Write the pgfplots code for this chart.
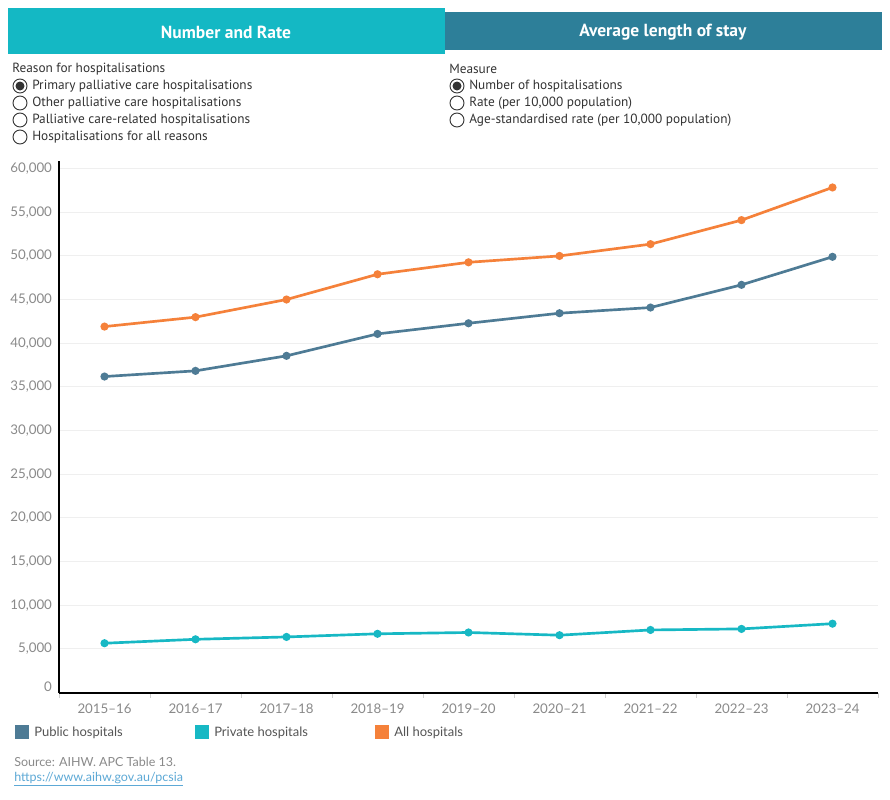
\documentclass[border=0pt]{standalone}
\usepackage{pgfplots}
\pgfplotsset{compat=1.18}
\usepackage{fontspec}
\setmainfont{Lato}
\newfontfamily\uifont{PT Sans}

\definecolor{pubc}{HTML}{4E7B95}
\definecolor{privc}{HTML}{17B8C4}
\definecolor{allc}{HTML}{F5813A}
\definecolor{tabA}{HTML}{14B8C4}
\definecolor{tabB}{HTML}{2D7F99}
\definecolor{ticklab}{HTML}{8A8A8A}
\definecolor{gridc}{HTML}{EFEFEF}
\definecolor{txt}{HTML}{333333}
\definecolor{legtxt}{HTML}{555555}
\definecolor{linkc}{HTML}{5DA9D6}

% font sizes given in screen pixels (1px = 0.75pt)
\newcommand{\px}[1]{\fontsize{\fpeval{0.75*#1}pt}{\fpeval{0.9*#1}pt}\selectfont}

\begin{document}
\begin{tikzpicture}
\begin{scope}[x=0.75pt,y=-0.75pt]
  \path[use as bounding box, fill=white] (0,0) rectangle (890,800);
  % tabs
  \fill[tabA] (8,8) rectangle (445,54);
  \fill[tabB] (445,12) rectangle (882,50);
  \node[white, font=\uifont\bfseries\px{17.5}] at (226,32) {Number and Rate};
  \node[white, font=\uifont\bfseries\px{17.5}] at (663,32) {Average length of stay};
  % selectors
  \node[anchor=west, inner sep=0, txt, font=\uifont\px{13.3}] at (12,69) {Reason for hospitalisations};
  \foreach \yy/\lab in {86/Primary palliative care hospitalisations,
                        103/Other palliative care hospitalisations,
                        120/Palliative care-related hospitalisations,
                        137/Hospitalisations for all reasons} {
    \draw[txt, line width=0.7pt] (20,\yy) circle[radius=7];
    \node[anchor=west, inner sep=0, txt, font=\uifont\px{13.3}] at (32,\yy) {\lab};
  }
  \fill[txt] (20,86) circle[radius=4.5];
  \node[anchor=west, inner sep=0, txt, font=\uifont\px{13.3}] at (449,69) {Measure};
  \foreach \yy/\lab in {86/Number of hospitalisations,
                        103/{Rate (per 10,000 population)},
                        120/{Age-standardised rate (per 10,000 population)}} {
    \draw[txt, line width=0.7pt] (457,\yy) circle[radius=7];
    \node[anchor=west, inner sep=0, txt, font=\uifont\px{13.3}] at (469,\yy) {\lab};
  }
  \fill[txt] (457,86) circle[radius=4.5];
  % legend
  \fill[pubc] (15,725) rectangle (29,739);
  \fill[privc] (195,725) rectangle (209,739);
  \fill[allc] (375,725) rectangle (389,739);
  \node[anchor=west, inner sep=0, legtxt, font=\px{13}] at (34,732.5) {Public hospitals};
  \node[anchor=west, inner sep=0, legtxt, font=\px{13}] at (214,732.5) {Private hospitals};
  \node[anchor=west, inner sep=0, legtxt, font=\px{13}] at (394,732.5) {All hospitals};
  % source
  \node[anchor=west, inner sep=0, ticklab, font=\px{12.5}] at (14,762) {Source: AIHW. APC Table 13.};
  \node[anchor=west, inner sep=0, linkc, font=\px{12.5}] at (14,779) {\underline{https://www.aihw.gov.au/pcsia}};
\end{scope}

\begin{axis}[
  at={(44.25pt,-519.75pt)}, anchor=south west,
  scale only axis, width=614.25pt, height=399pt,
  xmin=-0.5, xmax=8.5, ymin=-50, ymax=60870,
  axis x line*=bottom, axis y line*=left,
  axis line style={-, black, line width=1.1pt},
  xtick={0,...,8},
  xticklabels={2015--16,2016--17,2017--18,2018--19,2019--20,2020--21,2021--22,2022--23,2023--24},
  minor xtick={-0.5,0.5,...,8.5},
  major x tick style={draw=none},
  minor x tick style={gridc!70!gray, line width=0.6pt},
  minor tick length=3.5pt,
  tick align=outside,
  ytick={0,5000,...,60000},
  scaled y ticks=false,
  % the zero label sits a little above the x axis line
  yticklabel={\ifnum\ticknum=0 \vphantom{0}\smash{\raisebox{4.5pt}{0}}\else\pgfmathprintnumber[fixed, precision=0, 1000 sep={,}, assume math mode=true]{\tick}\fi},
  major y tick style={draw=none},
  ymajorgrids, grid style={gridc, line width=0.8pt},
  ticklabel style={ticklab, font=\px{13.3}},
  yticklabel style={xshift=2.5pt},
  xticklabel style={yshift=0pt},
  clip=false,
]
\addplot[allc, line width=2pt, mark=*, mark size=2pt, mark options={fill=allc, draw=allc}]
  coordinates {(0,41910) (1,42990) (2,45010) (3,47900) (4,49270) (5,50000) (6,51350) (7,54100) (8,57840)};
\addplot[pubc, line width=2pt, mark=*, mark size=2pt, mark options={fill=pubc, draw=pubc}]
  coordinates {(0,36190) (1,36840) (2,38560) (3,41070) (4,42290) (5,43440) (6,44090) (7,46690) (8,49900)};
\addplot[privc, line width=2pt, mark=*, mark size=2pt, mark options={fill=privc, draw=privc}]
  coordinates {(0,5650) (1,6100) (2,6370) (3,6730) (4,6880) (5,6570) (6,7170) (7,7290) (8,7890)};
\end{axis}
\end{tikzpicture}
\end{document}
